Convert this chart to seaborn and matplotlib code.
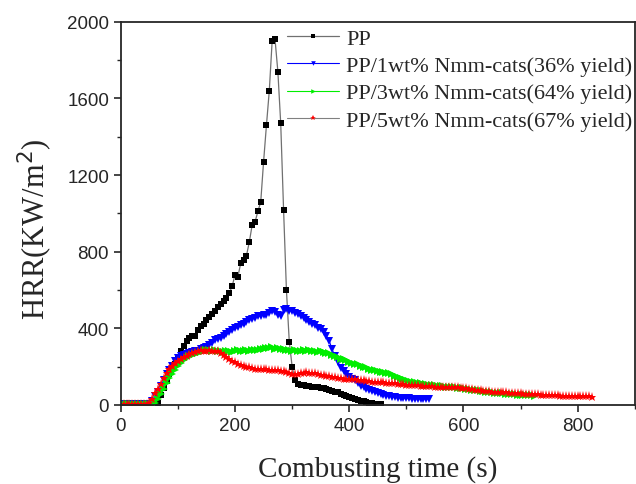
import numpy as np
import seaborn as sns
import matplotlib.pyplot as plt
from matplotlib.ticker import MultipleLocator

t_pp = list(range(65, 460, 5))
hrr_pp = [10, 50, 90, 125, 160, 190, 215, 250, 280, 310, 335, 350, 358, 362, 390, 410,
          420, 445, 460, 475, 490, 510, 525, 545, 560, 585, 620, 680, 670, 740, 755, 780,
          850, 940, 955, 1010, 1060, 1270, 1460, 1640, 1900, 1910, 1740, 1470, 1020, 600,
          330, 200, 130, 110, 105, 102, 100, 98, 96, 94, 92, 90, 86, 82, 78, 74, 70, 65,
          58, 52, 46, 40, 34, 30, 26, 22, 18, 14, 11, 8, 6, 4, 3]

t_1wt = list(range(0, 545, 5))
hrr_1wt = [3, 3, 3, 3, 3, 3, 3, 3, 3, 3, 3, 20, 45, 70, 100, 130, 160, 185, 205, 228,
           245, 255, 262, 268, 272, 275, 280, 284, 290, 295, 305, 315, 325, 338, 345, 352,
           360, 368, 380, 392, 400, 405, 415, 425, 435, 445, 450, 455, 462, 465, 470, 472,
           480, 490, 485, 470, 465, 495, 500, 492, 490, 480, 475, 465, 455, 445, 435, 425,
           415, 400, 395, 380, 360, 335, 290, 255, 225, 195, 175, 160, 148, 138, 128, 112,
           100, 92, 85, 78, 72, 65, 60, 55, 52, 48, 45, 42, 40, 38, 37, 36, 35, 34, 33, 33,
           32, 32, 31, 31, 30]

t_3wt = list(range(0, 730, 5))
hrr_3wt = [3, 3, 3, 3, 3, 3, 3, 3, 3, 3, 3, 3, 10, 30, 55, 85, 115, 140, 160, 185, 205,
           220, 235, 245, 255, 262, 268, 272, 278, 283, 288, 285, 282, 285, 280, 283, 278,
           282, 280, 278, 283, 285, 280, 283, 287, 282, 285, 288, 285, 290, 292, 295, 298,
           300, 292, 295, 290, 293, 288, 285, 283, 285, 282, 283, 285, 282, 285, 283, 280,
           278, 280, 275, 272, 270, 262, 258, 250, 242, 238, 232, 226, 220, 215, 212, 205,
           200, 196, 190, 185, 180, 178, 172, 170, 168, 165, 160, 152, 145, 140, 135, 130,
           126, 122, 118, 115, 112, 110, 108, 105, 103, 102, 100, 99, 97, 96, 95, 93, 92,
           90, 88, 86, 84, 82, 80, 78, 77, 75, 73, 70, 68, 66, 64, 62, 61, 60, 58, 57, 56,
           55, 54, 53, 52, 51, 50, 50, 49]

t_5wt = list(range(0, 830, 5))
hrr_5wt = [3, 3, 3, 3, 3, 3, 3, 3, 3, 3, 10, 30, 60, 85, 110, 140, 168, 190, 205, 218,
           230, 240, 250, 258, 265, 272, 278, 282, 285, 284, 282, 285, 280, 283, 280, 270,
           260, 248, 238, 228, 222, 215, 208, 205, 200, 197, 193, 190, 188, 186, 188, 186,
           185, 183, 182, 180, 178, 175, 170, 165, 162, 160, 162, 165, 168, 170, 168, 166,
           165, 162, 158, 155, 153, 150, 148, 145, 142, 140, 138, 137, 136, 135, 134, 132,
           130, 128, 126, 124, 122, 120, 119, 118, 118, 117, 116, 115, 112, 110, 108, 107,
           106, 105, 104, 103, 102, 101, 100, 99, 98, 97, 96, 95, 95, 94, 94, 93, 93, 92,
           92, 90, 88, 86, 84, 82, 80, 78, 76, 74, 73, 72, 70, 69, 68, 67, 66, 65, 64, 63,
           62, 61, 60, 59, 58, 57, 57, 56, 55, 54, 53, 53, 52, 51, 50, 50, 49, 49, 48, 48,
           47, 47, 46, 46, 45, 45, 45, 44]

labels = ['PP',
          'PP/1wt% Nmm-cats(36% yield)',
          'PP/3wt% Nmm-cats(64% yield)',
          'PP/5wt% Nmm-cats(67% yield)']

sns.set_style('ticks')
plt.rcParams['font.family'] = ['Liberation Sans', 'DejaVu Sans']

fig = plt.figure(figsize=(6.36, 4.85), dpi=100)
ax = fig.add_axes([0.190, 0.163, 0.808, 0.790])

sns.lineplot(x=t_pp, y=hrr_pp, ax=ax, color='#707070', lw=0.9, marker='s', ms=3.8,
             mfc='black', mec='black', mew=0, label=labels[0])
sns.lineplot(x=t_1wt, y=hrr_1wt, ax=ax, color='blue', lw=0.8, marker='v', ms=5.5,
             mfc='blue', mec='blue', mew=0, label=labels[1])
sns.lineplot(x=t_3wt, y=hrr_3wt, ax=ax, color='#00ee00', lw=0.8, marker='>', ms=5.5,
             mfc='#00ee00', mec='#00ee00', mew=0, label=labels[2])
sns.lineplot(x=t_5wt, y=hrr_5wt, ax=ax, color='#808080', lw=0.8, marker='*', ms=6.5,
             mfc='red', mec='red', mew=0, label=labels[3])

ax.set_xlim(0, 900)
ax.set_ylim(0, 2000)
ax.xaxis.set_major_locator(MultipleLocator(200))
ax.xaxis.set_minor_locator(MultipleLocator(100))
ax.yaxis.set_major_locator(MultipleLocator(400))
ax.yaxis.set_minor_locator(MultipleLocator(200))
ax.tick_params(which='major', direction='out', length=5, width=1.2, labelsize=13.5,
               top=False, right=False)
ax.tick_params(which='minor', direction='out', length=3, width=1.0, top=False, right=False)
for s in ax.spines.values():
    s.set_linewidth(1.3)
    s.set_visible(True)

ax.set_xlabel('Combusting time (s)', family=['Liberation Serif', 'DejaVu Serif'],
              size=21, labelpad=15)
ax.set_ylabel('HRR(KW/m$^2$)', family=['Liberation Serif', 'DejaVu Serif'], size=22)
ax.yaxis.set_label_coords(-0.128, 0.46)

ax.legend(loc='upper right', bbox_to_anchor=(1.008, 1.0), frameon=False, numpoints=1,
          markerscale=0.6, handlelength=2.35, handletextpad=0.3, labelspacing=0.3,
          borderaxespad=0.1, borderpad=0.2,
          prop={'family': ['Liberation Serif', 'DejaVu Serif'], 'size': 16})

fig.savefig('out.png', dpi=100)
